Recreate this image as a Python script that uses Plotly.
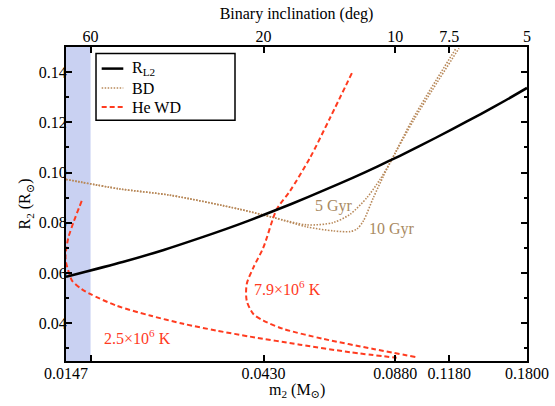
import math
import plotly.graph_objects as go

# ---- data ----
rl2_m = [0.0147, 0.020, 0.025, 0.030, 0.035, 0.040, 0.050, 0.060, 0.070, 0.080, 0.090, 0.100, 0.120, 0.140, 0.160, 0.180]
rl2_r = [0.0585, 0.0644, 0.0692, 0.0736, 0.0775, 0.0811, 0.0875, 0.0931, 0.0980, 0.1025, 0.1066, 0.1104, 0.1173, 0.1233, 0.1287, 0.1337]

bd5_m = [0.0147, 0.0197, 0.0259, 0.0378, 0.0454, 0.0544, 0.0628, 0.0688, 0.0754, 0.0810, 0.0855, 0.0970, 0.1224]
bd5_r = [0.0973, 0.0935, 0.0910, 0.0854, 0.0821, 0.0792, 0.0801, 0.0834, 0.0900, 0.0973, 0.1039, 0.1217, 0.1495]

bd10_m = [0.0147, 0.0197, 0.0259, 0.0378, 0.0454, 0.0544, 0.0628, 0.0688, 0.0714, 0.0740, 0.0781, 0.0825, 0.0855, 0.0979, 0.1244]
bd10_r = [0.0973, 0.0935, 0.0910, 0.0854, 0.0821, 0.0784, 0.0768, 0.0765, 0.0775, 0.0808, 0.0900, 0.0986, 0.1039, 0.1217, 0.1495]

wd25_m = [0.01601, 0.01530, 0.01489, 0.01470, 0.01466, 0.01473, 0.01502, 0.01520, 0.01601, 0.01675, 0.01936,
          0.0232, 0.0278, 0.03334, 0.03997, 0.0524, 0.0688, 0.08866]
wd25_r = [0.0887, 0.0801, 0.0741, 0.0689, 0.0660, 0.0636, 0.0589, 0.0569, 0.0536, 0.0517, 0.0470,
          0.0431, 0.0398, 0.0371, 0.0347, 0.0315, 0.0285, 0.0263]

wd79_m = [0.0695, 0.0617, 0.05536, 0.04967, 0.0462, 0.04297, 0.04069, 0.03925, 0.03925, 0.04069, 0.04297,
          0.04788, 0.0595, 0.0781, 0.0988]
wd79_r = [0.1396, 0.1217, 0.1059, 0.0927, 0.0854, 0.0702, 0.0622, 0.0556, 0.0490, 0.0437, 0.0411,
          0.0378, 0.0338, 0.0298, 0.0265]

band_m = [0.0147, 0.0168]          # excluded region (i > 60 deg)
x_range = [0.0147, 0.18]
y_range = [0.025, 0.15]
bottom_ticks = [0.0147, 0.0168, 0.0430, 0.0880, 0.1180, 0.1800]
bottom_text = ["0.0147", "", "0.0430", "0.0880", "0.1180", "0.1800"]
top_ticks = [0.0168, 0.0430, 0.0880, 0.1180, 0.1800]
top_text = ["60", "20", "10", "7.5", "5"]
y_ticks = [0.04, 0.06, 0.08, 0.10, 0.12, 0.14]
y_text = ["0.04", "0.06", "0.08", "0.10", "0.12", "0.14"]

labels = [
    ("5 Gyr", 0.0631, 0.0867, "#a98a62"),
    ("10 Gyr", 0.0863, 0.0775, "#a98a62"),
    ("7.9×10<sup>6</sup> K", 0.0490, 0.0539, "#ff3b1f"),
    ("2.5×10<sup>6</sup> K", 0.02168, 0.0344, "#ff3b1f"),
]

FONT = "Liberation Serif, DejaVu Serif, Noto Serif, serif"
RED = "#ff3b1f"
TAN = "#b8895a"
BAND = "#c9d1f2"

fig = go.Figure()

fig.add_trace(go.Scatter(
    x=[band_m[0], band_m[1], band_m[1], band_m[0]],
    y=[y_range[0], y_range[0], y_range[1], y_range[1]],
    fill="toself", fillcolor=BAND, line=dict(width=0), mode="lines",
    hoverinfo="skip", showlegend=False))

bd_line = dict(color=TAN, width=1.6, dash="1.5px,1.5px", shape="spline", smoothing=0.8)
wd_line = dict(color=RED, width=2, dash="5px,3px", shape="spline", smoothing=0.8)
fig.add_trace(go.Scatter(x=bd5_m, y=bd5_r, mode="lines", line=bd_line, showlegend=False))
fig.add_trace(go.Scatter(x=bd10_m, y=bd10_r, mode="lines", line=bd_line, showlegend=False))
fig.add_trace(go.Scatter(x=wd25_m, y=wd25_r, mode="lines", line=wd_line, showlegend=False))
fig.add_trace(go.Scatter(x=wd79_m, y=wd79_r, mode="lines", line=wd_line, showlegend=False))
fig.add_trace(go.Scatter(x=rl2_m, y=rl2_r, mode="lines",
                         line=dict(color="black", width=2.5, shape="spline", smoothing=0.6),
                         showlegend=False))
# invisible trace so the top (inclination) axis is drawn
fig.add_trace(go.Scatter(x=top_ticks, y=[None] * len(top_ticks), mode="lines", xaxis="x2", yaxis="y",
                         showlegend=False, hoverinfo="skip"))

annotations = []
for txt, xm, yv, col in labels:
    annotations.append(dict(x=math.log10(xm), y=yv, xref="x", yref="y", text=txt, showarrow=False,
                            font=dict(family=FONT, size=16, color=col), xanchor="center", yanchor="middle"))

# bottom axis title
annotations.append(dict(x=0.5, y=-0.094, xref="paper", yref="paper", text="m<sub>2</sub> (M<sub>⊙</sub>)",
                        showarrow=False, xanchor="center", yanchor="middle",
                        font=dict(family=FONT, size=16, color="black")))

# manual legend
legend_items = [
    ("R<sub>L2</sub>", dict(color="black", width=2.5)),
    ("BD", dict(color=TAN, width=1.6, dash="1.5px,1.5px")),
    ("He WD", dict(color=RED, width=2, dash="5px,3px")),
]
shapes = [dict(type="rect", xref="paper", yref="paper", x0=0.0651, x1=0.3666, y0=0.7666, y1=0.979,
               line=dict(color="black", width=1.5), fillcolor="white", layer="above")]
ys = [0.9312, 0.8694, 0.8089]
for (txt, ln), yy in zip(legend_items, ys):
    shapes.append(dict(type="line", xref="paper", yref="paper", x0=0.0774, x1=0.1243, y0=yy, y1=yy,
                       line=ln, layer="above"))
    annotations.append(dict(x=0.1388, y=yy, xref="paper", yref="paper", text=txt, showarrow=False,
                            xanchor="left", yanchor="middle", font=dict(family=FONT, size=16, color="black")))

axis_common = dict(showgrid=False, zeroline=False, showline=True, linecolor="black", linewidth=2,
                   ticks="inside", tickcolor="black", tickwidth=1.5, ticklen=6, automargin=False,
                   tickfont=dict(family=FONT, size=16, color="black"))

fig.update_layout(
    width=555, height=406,
    margin=dict(l=66, r=28, t=47, b=45),
    paper_bgcolor="white", plot_bgcolor="white",
    showlegend=False,
    font=dict(family=FONT, size=16, color="black"),
    xaxis=dict(type="log", range=[math.log10(x_range[0]), math.log10(x_range[1])],
               tickvals=bottom_ticks, ticktext=bottom_text, mirror="ticks", ticklabelstandoff=-3,
               **axis_common),
    xaxis2=dict(type="log", range=[math.log10(x_range[0]), math.log10(x_range[1])],
                overlaying="x", side="top", anchor="y", ticklabelstandoff=-3,
                tickvals=top_ticks, ticktext=top_text,
                title=dict(text="Binary inclination (deg)", standoff=4, font=dict(family=FONT, size=16)),
                **axis_common),
    yaxis=dict(range=y_range, tickvals=y_ticks, ticktext=y_text, mirror="ticks", ticklabelstandoff=-6,
               minor=dict(dtick=0.01, ticks="inside", ticklen=3, tickcolor="black", tickwidth=1.5),
               title=dict(text="R<sub>2</sub> (R<sub>⊙</sub>)", standoff=4, font=dict(family=FONT, size=16)),
               **axis_common),
    annotations=annotations,
    shapes=shapes,
)

fig.write_html("out.html", config={"displayModeBar": False},
               post_script="document.body.style.margin='0';document.body.style.overflow='hidden';")
